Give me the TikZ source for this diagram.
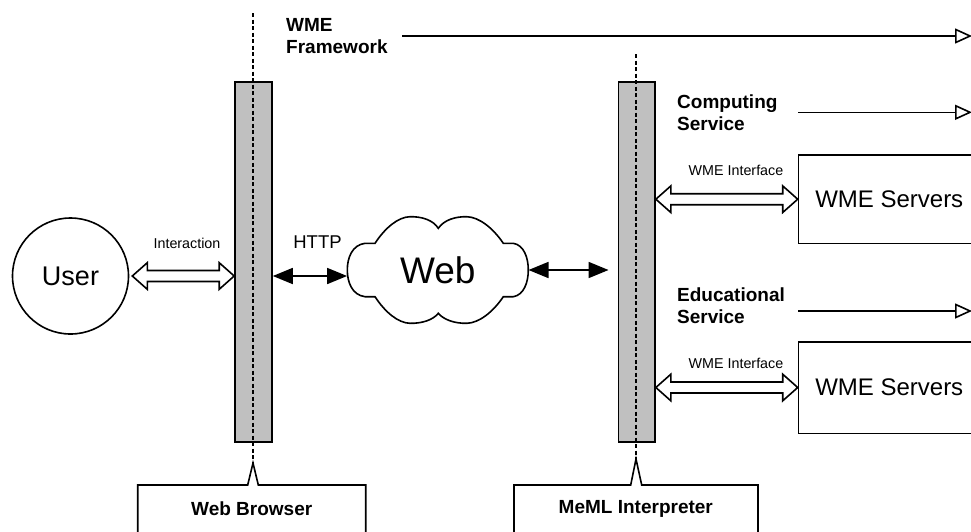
\documentclass[tikz,border=0pt]{standalone}
\usepackage{fontspec}
\setmainfont{Liberation Sans}
\usetikzlibrary{arrows.meta,calc}
\definecolor{barfill}{RGB}{192,192,192}
\tikzset{
  outline/.style={draw=black, line width=1.6pt},
  layerbar/.style={draw=black, line width=1.6pt, fill=barfill, minimum width=37pt, minimum height=360pt, inner sep=0pt},
  axis/.style={line width=1.3pt, dash pattern=on 4pt off 2.5pt},
  heading/.style={font=\fontsize{19}{22}\selectfont\bfseries, align=left, anchor=west, inner sep=0pt},
  small/.style={font=\fontsize{14.3}{16}\selectfont, inner sep=0pt},
  flow/.style={line width=1.6pt, -{Triangle[open,length=17pt,width=15pt]}},
  exchange/.style={line width=1.7pt, {Triangle[length=20pt,width=16pt]}-{Triangle[length=20pt,width=16pt]}},
  fat/.style={line width=1.6pt, draw=black, fill=white, line join=miter},
  serverbox/.style={outline, minimum width=181.5pt, inner sep=0pt, font=\fontsize{24}{28}\selectfont},
}
% hollow two-headed arrow between two points on one horizontal line
\newcommand{\hollowlink}[2]{%
  \draw[fat] let \p1=#1, \p2=#2 in
    (\x1,\y1) -- (\x1+15pt,\y1+13.3pt) -- (\x1+15pt,\y1+5.5pt)
    -- (\x2-15pt,\y1+5.5pt) -- (\x2-15pt,\y1+13.3pt) -- (\x2,\y1)
    -- (\x2-15pt,\y1-13.3pt) -- (\x2-15pt,\y1-5.5pt)
    -- (\x1+15pt,\y1-5.5pt) -- (\x1+15pt,\y1-13.3pt) -- cycle;}
\begin{document}
\begin{tikzpicture}[x=1pt,y=-1pt]
\useasboundingbox (0,0) rectangle (971,531);
\clip (0,0) rectangle (971,531);

% user
\node[circle, outline, minimum size=116pt, inner sep=0pt,
      font=\fontsize{27}{30}\selectfont] (user) at (70.5,276) {User};

% layer bars
\node[layerbar] (bbar) at (253.5,262) {};
\node[layerbar, minimum width=36.7pt] (mbar) at (636.7,262) {};

% vertical axes through the bars
\coordinate (btop) at (253,13);
\coordinate (bpeak) at (253,463);
\coordinate (mtop) at (636,54);
\coordinate (mpeak) at (636,459);
\draw[axis] (btop) -- (bpeak);
\draw[axis] (mtop) -- (mpeak);

% callout labels at the bottom
\draw[outline, line join=miter] (137.7,545) -- (137.7,485) -- (247.7,485) -- (bpeak)
  -- (258.3,485) -- (365.7,485) -- (365.7,545);
\node[heading, anchor=center] (browser) at (251.7,509) {Web Browser};
\draw[outline, line join=miter] (514,545) -- (514,485) -- (630.7,485) -- (mpeak)
  -- (641.7,485) -- (758,485) -- (758,545);
\node[heading, anchor=center] (interp) at (635.8,509) {MeML Interpreter};

% the web cloud
\node[minimum width=181pt, minimum height=107pt, inner sep=0pt,
      font=\fontsize{37}{40}\selectfont] (web) at (437.8,270) {Web};
\draw[outline]
  (365,243.3) .. controls (352,245) and (347.3,258) .. (347.3,270)
  .. controls (347.3,282) and (352,295) .. (365,296.7)
  -- (375,296.7)
  .. controls (385,312) and (398,323) .. (410,323.3)
  .. controls (422,323.5) and (433,320) .. (438.3,313.3)
  .. controls (444,320) and (455,323.5) .. (466.7,323.3)
  .. controls (479,323) and (493,312) .. (503.3,296.7)
  -- (513.3,296.7)
  .. controls (524,295) and (528.3,282) .. (528.3,270)
  .. controls (528.3,258) and (524,245) .. (513.3,243.3)
  -- (503.3,243.3)
  .. controls (493,228) and (479,217) .. (466.7,216.7)
  .. controls (455,216.5) and (444,220) .. (438.3,228.3)
  .. controls (433,220) and (422,216.5) .. (410,216.7)
  .. controls (398,217) and (385,228) .. (375,243.3)
  -- cycle;

% servers
\node[serverbox, minimum height=88.3pt] (srv1) at (889.25,199.2) {WME Servers};
\node[serverbox, minimum height=91.6pt] (srv2) at (889.25,387.5) {WME Servers};

% headings with their flows
\node[heading] (fw) at (286,36) {WME\\Framework};
\node[heading] (comp) at (677,112.3) {Computing\\Service};
\node[heading] (edu) at (677,305.8) {Educational\\Service};
\coordinate (fwstart) at (402,36);
\coordinate (fwend) at (972,36);
\coordinate (compstart) at (798,112.3);
\coordinate (compend) at (972,112.3);
\coordinate (edustart) at (798,311);
\coordinate (eduend) at (972,311);
\draw[flow] (fwstart) -- (fwend);
\draw[flow] (compstart) -- (compend);
\draw[flow] (edustart) -- (eduend);

% connectors
\hollowlink{($(user.east)+(3,0)$)}{(bbar.west |- user.east)}
\node[small] (lint) at (187,243.3) {Interaction};
\draw[exchange] (bbar.east |- user.east) -- (web.west |- user.east);
\node[font=\fontsize{18.5}{20}\selectfont, inner sep=0pt] (lhttp) at (317.5,241.7) {HTTP};
\draw[exchange] (web.east) -- ($(mbar.west |- web.east)+(-9,0)$);
\hollowlink{(mbar.east |- srv1.west)}{(srv1.west)}
\node[small] (lif1) at (736,170) {WME Interface};
\hollowlink{(mbar.east |- srv2.west)}{(srv2.west)}
\node[small] (lif2) at (736,363.3) {WME Interface};
\end{tikzpicture}
\end{document}
